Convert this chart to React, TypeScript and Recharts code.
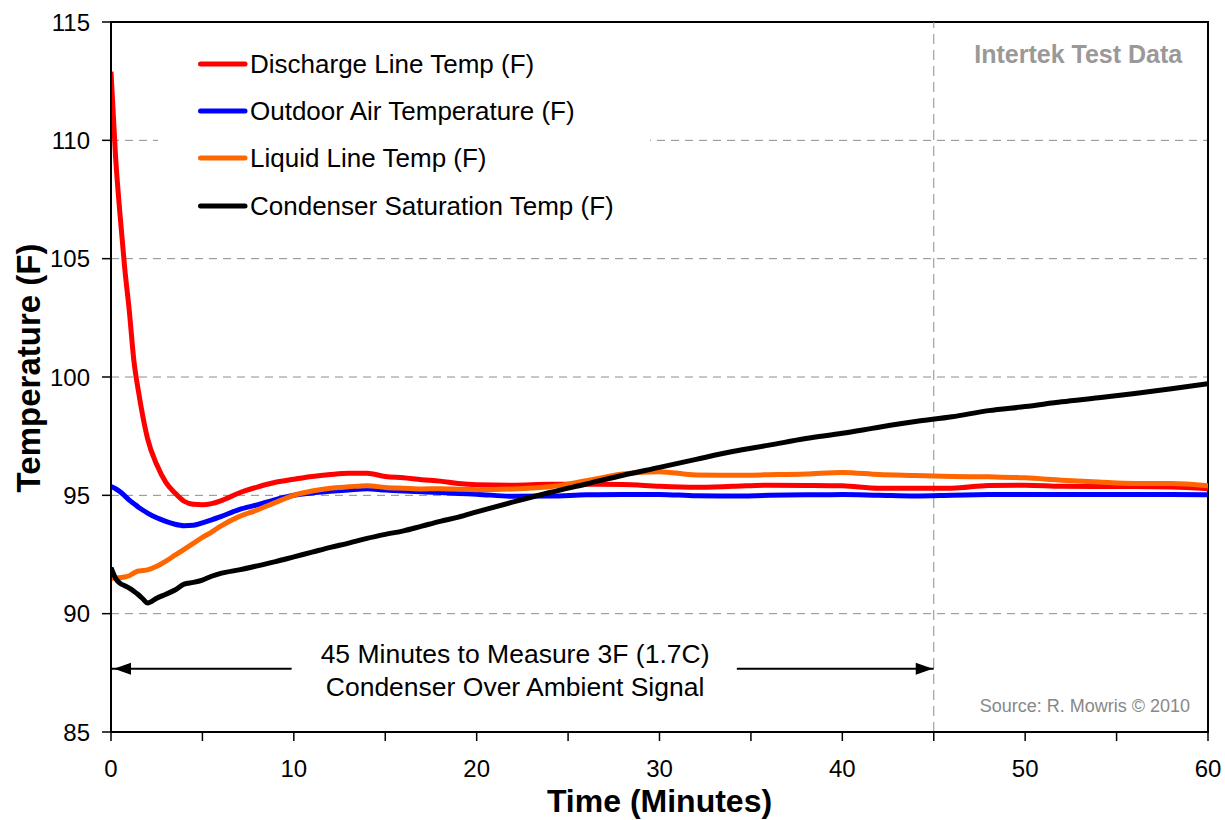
import React from 'react';
import {
  LineChart,
  Line,
  XAxis,
  YAxis,
  CartesianGrid,
  ReferenceLine,
  ReferenceArea,
  ReferenceDot,
  Legend,
} from 'recharts';

const FONT = '"Liberation Sans", Arial, Helvetica, sans-serif';

// ---- data ----
const timeMinutes = [
  0, 0.25, 0.5, 0.75, 1, 1.25, 1.5, 1.75, 2, 2.5, 3, 3.5, 4, 4.5, 5, 5.5, 6,
  7, 8, 9, 10, 11, 12, 13, 14, 15, 16, 17, 18, 19, 20,
  22, 24, 26, 28, 30, 32, 34, 36, 38, 40, 42, 44, 46, 48, 50, 52, 54, 56, 58, 60,
];

const dischargeLineTemp = [
  112.9, 109.3, 106.8, 104.6, 102.8, 100.7, 99.4, 98.3, 97.4, 96.3, 95.55, 95.1, 94.75, 94.62, 94.6, 94.65, 94.77,
  95.1, 95.35, 95.55, 95.68, 95.8, 95.88, 95.93, 95.93, 95.8, 95.74, 95.66, 95.6, 95.5, 95.45,
  95.43, 95.47, 95.47, 95.46, 95.38, 95.34, 95.38, 95.43, 95.42, 95.4, 95.3, 95.3, 95.3, 95.42, 95.43, 95.38, 95.37, 95.37, 95.35, 95.28,
];

const outdoorAirTemp = [
  95.37, 95.28, 95.15, 94.98, 94.8, 94.65, 94.5, 94.37, 94.25, 94.05, 93.9, 93.78, 93.72, 93.74, 93.84, 93.96, 94.1,
  94.4, 94.6, 94.82, 95.0, 95.1, 95.17, 95.23, 95.28, 95.22, 95.18, 95.15, 95.12, 95.08, 95.05,
  94.96, 94.97, 95.02, 95.04, 95.04, 94.98, 94.97, 95.0, 95.02, 95.03, 95.0, 94.97, 95.0, 95.03, 95.04, 95.03, 95.04, 95.03, 95.03, 95.02,
];

const liquidLineTemp = [
  91.5, 91.5, 91.52, 91.55, 91.6, 91.72, 91.8, 91.82, 91.85, 92.0, 92.22, 92.47, 92.72, 92.97, 93.22, 93.45, 93.7,
  94.1, 94.38, 94.7, 95.0, 95.18, 95.3, 95.36, 95.41, 95.33, 95.3, 95.27, 95.28, 95.26, 95.24,
  95.27, 95.36, 95.62, 95.9, 96.0, 95.86, 95.85, 95.87, 95.9, 95.97, 95.88, 95.84, 95.8, 95.78, 95.74, 95.64, 95.56, 95.5, 95.5, 95.4,
];

const condenserSatTemp = [
  91.95, 91.5, 91.28, 91.18, 91.08, 90.95, 90.8, 90.62, 90.45, 90.65, 90.82, 91.0, 91.25, 91.32, 91.42, 91.58, 91.7,
  91.85, 92.02, 92.2, 92.4, 92.6, 92.8, 92.98, 93.18, 93.35, 93.5, 93.7, 93.9, 94.08, 94.3,
  94.72, 95.12, 95.48, 95.85, 96.18, 96.52, 96.85, 97.12, 97.4, 97.62, 97.88, 98.12, 98.32, 98.58, 98.75, 98.95, 99.12, 99.3, 99.5, 99.72,
];

const xTicks = [0, 5, 10, 15, 20, 25, 30, 35, 40, 45, 50, 55, 60];
const yTicks = [85, 90, 95, 100, 105, 110, 115];

const seriesNames = [
  'Discharge Line Temp (F)',
  'Outdoor Air Temperature (F)',
  'Liquid Line Temp (F)',
  'Condenser Saturation Temp (F)',
];
const seriesKeys = ['discharge', 'outdoor', 'liquid', 'condenser'];
const seriesColors = ['#FF0000', '#0000FF', '#FF6600', '#000000'];

// annotation values (data coordinates)
const markerTime = 45;
const arrowLevel = 87.67;
const leftArrowSpan = [0, 9.88];
const rightArrowSpan = [34.23, 45];
const noteTime = 22.1;
const noteLines = ['45 Minutes to Measure 3F (1.7C)', 'Condenser Over Ambient Signal'];
const titleNote = { t: 58.59, v: 113.66, text: 'Intertek Test Data' };
const sourceNote = { t: 59.02, v: 86.1, text: 'Source: R. Mowris \u00A9 2010' };

const data = timeMinutes.map((t, i) => ({
  t,
  discharge: dischargeLineTemp[i],
  outdoor: outdoorAirTemp[i],
  liquid: liquidLineTemp[i],
  condenser: condenserSatTemp[i],
}));

const leftHead = (props: any) => {
  const { cx, cy } = props;
  return (
    <polygon
      points={`${cx + 3},${cy} ${cx + 20},${cy - 6} ${cx + 20},${cy + 6}`}
      fill="#000"
    />
  );
};

const rightHead = (props: any) => {
  const { cx, cy } = props;
  return (
    <polygon
      points={`${cx - 1},${cy} ${cx - 18},${cy - 6} ${cx - 18},${cy + 6}`}
      fill="#000"
    />
  );
};

const noteShape = (props: any) => {
  const { cx, cy } = props;
  return (
    <g>
      <text x={cx} y={cy - 15} textAnchor="middle" dominantBaseline="central" fontFamily={FONT} fontSize={26.5} fill="#000">
        {noteLines[0]}
      </text>
      <text x={cx} y={cy + 18} textAnchor="middle" dominantBaseline="central" fontFamily={FONT} fontSize={26.5} fill="#000">
        {noteLines[1]}
      </text>
    </g>
  );
};

const titleShape = (props: any) => {
  const { cx, cy } = props;
  return (
    <text x={cx} y={cy} textAnchor="end" dominantBaseline="central" fontFamily={FONT} fontSize={25} fontWeight="bold" fill="#999999">
      {titleNote.text}
    </text>
  );
};

const sourceShape = (props: any) => {
  const { cx, cy } = props;
  return (
    <text x={cx} y={cy} textAnchor="end" dominantBaseline="central" fontFamily={FONT} fontSize={18} fill="#888888">
      {sourceNote.text}
    </text>
  );
};

const renderLegend = () => (
  <div
    style={{
      background: '#fff',
      width: 492,
      height: 210,
      boxSizing: 'border-box',
      paddingTop: 10,
      fontFamily: FONT,
    }}
  >
    {seriesNames.map((name, i) => (
      <div key={name} style={{ display: 'flex', alignItems: 'center', height: 47.3 }}>
        <svg width={52} height={10} style={{ marginLeft: 40, display: 'block' }}>
          <line x1={2.5} y1={5} x2={47} y2={5} stroke={seriesColors[i]} strokeWidth={5} strokeLinecap="round" />
        </svg>
        <span style={{ fontSize: 26, color: '#000', lineHeight: '30px' }}>{name}</span>
      </div>
    ))}
  </div>
);

export default function App() {
  return (
    <div style={{ position: 'absolute', left: 0, top: 0, width: 1225, height: 820, background: '#fff' }}>
      <LineChart
        width={1225}
        height={820}
        data={data}
        margin={{ top: 22, right: 17, bottom: 0, left: 0 }}
      >
        <CartesianGrid horizontal vertical={false} stroke="#8c8c8c" strokeDasharray="8 6" strokeWidth={1} />
        <XAxis
          dataKey="t"
          type="number"
          domain={[0, 60]}
          ticks={xTicks}
          interval={0}
          allowDataOverflow
          height={88}
          tickSize={9}
          tickMargin={19}
          axisLine={{ stroke: '#000', strokeWidth: 2 }}
          tickLine={{ stroke: '#000', strokeWidth: 1.5 }}
          tick={{ fontSize: 24, fill: '#000', fontFamily: FONT }}
          tickFormatter={(v: number) => (v % 10 === 0 ? String(v) : '')}
          label={{
            value: 'Time (Minutes)',
            position: 'insideBottom',
            offset: 8,
            fontSize: 32,
            fontWeight: 'bold',
            fill: '#000',
            fontFamily: FONT,
          }}
        />
        <YAxis
          type="number"
          domain={[85, 115]}
          ticks={yTicks}
          interval={0}
          allowDataOverflow
          width={111}
          tickSize={9}
          tickMargin={12}
          axisLine={{ stroke: '#000', strokeWidth: 2 }}
          tickLine={{ stroke: '#000', strokeWidth: 1.5 }}
          tick={{ fontSize: 24, fill: '#000', fontFamily: FONT }}
          label={{
            value: 'Temperature (F)',
            angle: -90,
            position: 'center',
            dx: -27.5,
            dy: -9,
            fontSize: 33,
            fontWeight: 'bold',
            fill: '#000',
            fontFamily: FONT,
          }}
        />
        <ReferenceLine x={markerTime} stroke="#8c8c8c" strokeDasharray="10 6" strokeWidth={1} />
        <Legend
          layout="vertical"
          align="center"
          verticalAlign="middle"
          content={renderLegend}
          wrapperStyle={{ left: 158, top: 30, width: 492, height: 210 }}
        />
        {seriesKeys.map((k, i) => (
          <Line
            key={k}
            type="monotone"
            dataKey={k}
            name={seriesNames[i]}
            stroke={seriesColors[i]}
            strokeWidth={5}
            dot={false}
            activeDot={false}
            isAnimationActive={false}
          />
        ))}
        <ReferenceArea x1={0} x2={60} y1={85} y2={115} fill="none" stroke="#000" strokeWidth={2} />
        <ReferenceLine
          segment={[
            { x: leftArrowSpan[0], y: arrowLevel },
            { x: leftArrowSpan[1], y: arrowLevel },
          ]}
          stroke="#000"
          strokeWidth={2}
        />
        <ReferenceLine
          segment={[
            { x: rightArrowSpan[0], y: arrowLevel },
            { x: rightArrowSpan[1], y: arrowLevel },
          ]}
          stroke="#000"
          strokeWidth={2}
        />
        <ReferenceDot x={leftArrowSpan[0]} y={arrowLevel} shape={leftHead} />
        <ReferenceDot x={rightArrowSpan[1]} y={arrowLevel} shape={rightHead} />
        <ReferenceDot x={noteTime} y={arrowLevel} shape={noteShape} />
        <ReferenceDot x={titleNote.t} y={titleNote.v} shape={titleShape} />
        <ReferenceDot x={sourceNote.t} y={sourceNote.v} shape={sourceShape} />
      </LineChart>
    </div>
  );
}
